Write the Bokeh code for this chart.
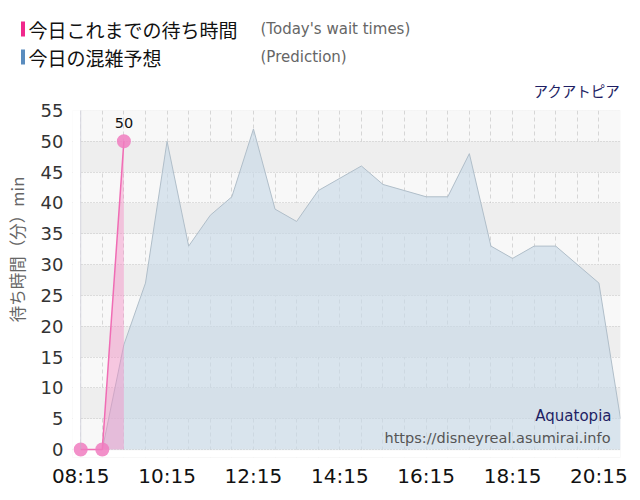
import math
import numpy as np
from bokeh.plotting import figure
from bokeh.layouts import column, row
from bokeh.models import Range1d, FixedTicker, Label, BoxAnnotation
from bokeh.core.properties import value
from bokeh.embed import file_html
from bokeh.resources import INLINE

# ---- data ----
actual_times = ["08:15", "08:45", "09:15"]
actual_values = [0, 0, 50]

pred_times = ["08:45", "09:15", "09:45", "10:15", "10:45", "11:15", "11:45", "12:15",
              "12:45", "13:15", "13:45", "14:15", "14:45", "15:15", "15:45", "16:15",
              "16:45", "17:15", "17:45", "18:15", "18:45", "19:15", "19:45", "20:15", "20:45"]
pred_values = [0, 17, 27, 50, 33, 38, 41, 52,
               39, 37, 42, 44, 46, 43, 42, 41,
               41, 48, 33, 31, 33, 33, 30, 27, 5]

tick_labels = ["08:15", "10:15", "12:15", "14:15", "16:15", "18:15", "20:15"]
y_ticks = [0, 5, 10, 15, 20, 25, 30, 35, 40, 45, 50, 55]

legend_jp = ["今日これまでの待ち時間", "今日の混雑予想"]
legend_en = ["(Today's wait times)", "(Prediction)"]
legend_colors = ["#f0288c", "#5a8cbe"]
attraction_jp = "アクアトピア"
attraction_en = "Aquatopia"
site_url = "https://disneyreal.asumirai.info"
y_label = "待ち時間（分）min"


def to_h(s):
    h, m = s.split(":")
    return int(h) + int(m) / 60.0


ax = [to_h(t) for t in actual_times]
px = [to_h(t) for t in pred_times]
ticks = [to_h(t) for t in tick_labels]
x0, x1 = ticks[0], to_h(pred_times[-1])
y_top = y_ticks[-1]

CJK = "Noto Sans CJK JP"
LAT = "DejaVu Sans"


def blank(fig):
    fig.frame_align = False
    fig.outline_line_color = None
    fig.xgrid.visible = False
    fig.ygrid.visible = False
    fig.background_fill_color = "white"
    fig.border_fill_color = "white"


# ---------------- header ----------------
h = figure(width=640, height=100, output_backend="svg", toolbar_location=None,
           x_range=Range1d(0, 640), y_range=Range1d(0, 100),
           x_axis_type=None, y_axis_type=None, min_border=0)
blank(h)

for i, (yc, col) in enumerate(zip([71, 43], legend_colors)):
    h.add_layout(BoxAnnotation(left=20.5, right=24.5, top=yc + 8, bottom=yc - 7,
                               left_units="screen", right_units="screen",
                               top_units="screen", bottom_units="screen",
                               fill_color=col, fill_alpha=1, line_color=None))
    h.add_layout(Label(x=28, y=yc, x_units="screen", y_units="screen", text=legend_jp[i],
                       text_font=CJK, text_font_size="19px", text_color="#111111",
                       text_baseline="middle", text_align="left"))
    h.add_layout(Label(x=260, y=yc + 1, x_units="screen", y_units="screen", text=legend_en[i],
                       text_font=LAT, text_font_size="15px", text_color="#666666",
                       text_baseline="middle", text_align="left"))
h.add_layout(Label(x=620, y=10, x_units="screen", y_units="screen", text=attraction_jp,
                   text_font=CJK, text_font_size="14.5px", text_color="#1e1e64",
                   text_baseline="middle", text_align="right"))

# ---------------- y axis title strip ----------------
MAIN_H = 395
yl = figure(width=30, height=MAIN_H, output_backend="svg", toolbar_location=None,
            x_range=Range1d(0, 30), y_range=Range1d(0, MAIN_H),
            x_axis_type=None, y_axis_type=None, min_border=0)
blank(yl)
yl.add_layout(Label(x=16, y=MAIN_H - 149, x_units="screen", y_units="screen", text=y_label,
                    angle=math.pi / 2, text_font=CJK, text_font_size="16.5px",
                    text_color="#666666", text_baseline="middle", text_align="center"))

# ---------------- main chart ----------------
p = figure(width=610, height=MAIN_H, output_backend="svg", toolbar_location=None,
           x_range=Range1d(x0 - 0.19, x1), y_range=Range1d(-1.3, y_top),
           min_border_left=42, min_border_right=20, min_border_top=10, min_border_bottom=38)
p.frame_align = False
p.background_fill_color = "#f8f8f8"
p.border_fill_color = "white"
p.outline_line_color = None

# axes
p.xaxis.ticker = FixedTicker(ticks=ticks)
p.xaxis.major_label_overrides = {t: l for t, l in zip(ticks, tick_labels)}
p.xaxis.axis_line_color = None
p.xaxis.major_tick_line_color = None
p.xaxis.minor_tick_line_color = None
p.xaxis.major_tick_out = 0
p.xaxis.major_tick_in = 0
p.xaxis.major_label_text_font = LAT
p.xaxis.major_label_text_font_size = "20px"
p.xaxis.major_label_text_color = "#111111"
p.xaxis.major_label_standoff = 6

p.yaxis.ticker = FixedTicker(ticks=y_ticks)
p.yaxis.axis_line_color = None
p.yaxis.major_tick_line_color = None
p.yaxis.minor_tick_line_color = None
p.yaxis.major_tick_out = 0
p.yaxis.major_tick_in = 0
p.yaxis.major_label_text_font = LAT
p.yaxis.major_label_text_font_size = "18px"
p.yaxis.major_label_text_color = "#333333"
p.yaxis.major_label_standoff = 9

# grids
p.xgrid.ticker = FixedTicker(ticks=list(np.arange(x0, x1 + 0.01, 0.5)))
p.xgrid.grid_line_color = "#d6d6d6"
p.xgrid.grid_line_dash = "4 3"
p.ygrid.ticker = FixedTicker(ticks=[y_ticks[0] - 5] + y_ticks)
p.ygrid.grid_line_color = "#c4c4c4"
p.ygrid.grid_line_dash = "1 2"
p.ygrid.band_fill_color = "#eeeeee"
p.ygrid.band_fill_alpha = 1.0

# white margins outside the data area (so markers may overflow like the original)
p.add_layout(BoxAnnotation(top=-0.12, fill_color="white", fill_alpha=1, line_color=None,
                           level="underlay"))
p.add_layout(BoxAnnotation(right=x0, fill_color="white", fill_alpha=1, line_color=None,
                           level="underlay"))
# top dotted border
p.add_layout(BoxAnnotation(left=x0, bottom=y_top, top=y_top, fill_alpha=0,
                           line_color="#c4c4c4", line_dash="1 2", level="underlay"))
# y axis line at 08:15
p.add_layout(BoxAnnotation(left=x0, right=x0, bottom=0, top=y_top, fill_alpha=0,
                           line_color="#b4b4c4", line_width=1))

# prediction area
p.varea(x=px, y1=0, y2=pred_values, fill_color="#c8d8e6", fill_alpha=0.65)
p.line(px, pred_values, line_color="#b0bec9", line_width=1)

# actual wait
p.varea(x=ax, y1=0, y2=actual_values, fill_color="#f48cc4", fill_alpha=0.45)
p.line(ax, actual_values, line_color="#f06cb4", line_width=1.5)
p.scatter(ax, actual_values, size=14, fill_color="#f07cbf", fill_alpha=0.85, line_color=None)
p.text(x=[ax[-1]], y=[actual_values[-1]], text=[str(actual_values[-1])],
       text_font=value(LAT), text_font_size="14.5px", text_color="#111111",
       text_align="center", text_baseline="middle", y_offset=-18)

# captions inside the plot (frame-relative screen coordinates)
p.add_layout(Label(x=539, y=42, x_units="screen", y_units="screen", text=attraction_en,
                   text_font=LAT, text_font_size="15px", text_color="#1e1e64",
                   text_baseline="middle", text_align="right"))
p.add_layout(Label(x=538, y=20, x_units="screen", y_units="screen", text=site_url,
                   text_font=LAT, text_font_size="14.5px", text_color="#555555",
                   text_baseline="middle", text_align="right"))

layout = column(h, row(yl, p, spacing=0), spacing=0)
open("out.html", "w").write(file_html(layout, INLINE))
